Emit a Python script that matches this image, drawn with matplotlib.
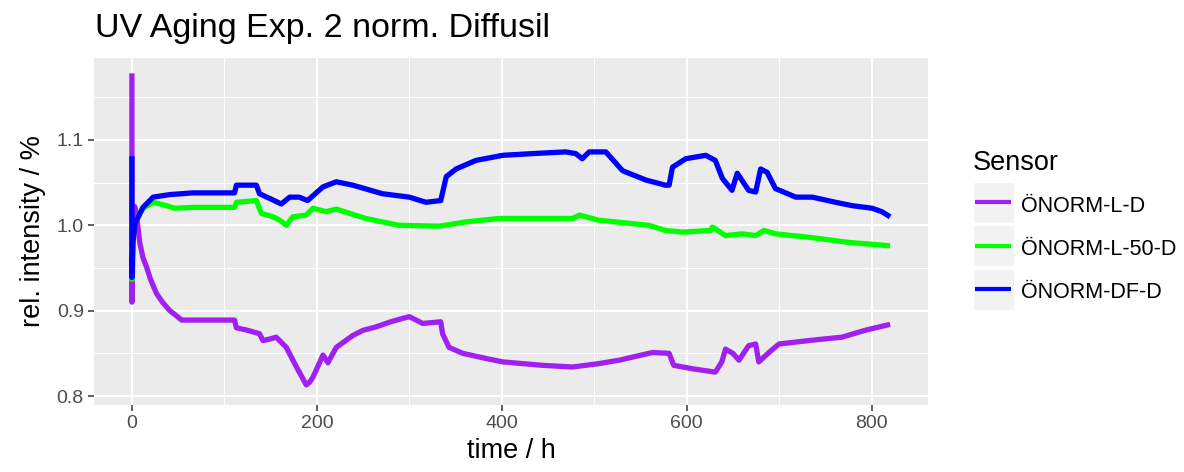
import matplotlib
matplotlib.use("Agg")
import matplotlib.pyplot as plt
from matplotlib.lines import Line2D
from matplotlib.patches import Rectangle

plt.rcParams['font.family'] = ['Liberation Sans', 'DejaVu Sans']

# ---- data ----
title = "UV Aging Exp. 2 norm. Diffusil"
sensors = ["ÖNORM-L-D", "ÖNORM-L-50-D", "ÖNORM-DF-D"]
colors = ["#A020F0", "#00FF00", "#0000FF"]

t_ld = [0, 0, 1.5, 3, 5, 8.6, 12, 15.9, 20, 26.7, 33, 41, 47, 53.7, 111, 113, 125,
        138, 141.7, 150, 156, 167, 178, 188.6, 192, 195.8, 206.6, 212, 221, 239,
        250, 264, 280, 293, 300, 314.6, 334, 336, 343, 357.8, 383, 401, 444, 476.6,
        505, 527, 563, 581, 586, 606, 631, 638, 642, 650, 656.6, 667, 674.6, 678,
        690, 700, 732, 768, 793, 820]
v_ld = [1.178, 0.910, 1.0, 1.022, 1.012, 0.979, 0.962, 0.951, 0.937, 0.920, 0.910,
        0.900, 0.895, 0.889, 0.889, 0.880, 0.877, 0.873, 0.865, 0.867, 0.869, 0.857,
        0.834, 0.813, 0.816, 0.822, 0.848, 0.839, 0.857, 0.871, 0.877, 0.881, 0.887,
        0.891, 0.893, 0.885, 0.887, 0.873, 0.857, 0.850, 0.844, 0.840, 0.836, 0.834,
        0.838, 0.842, 0.851, 0.850, 0.836, 0.832, 0.828, 0.840, 0.855, 0.850, 0.842,
        0.859, 0.861, 0.840, 0.852, 0.861, 0.865, 0.869, 0.877, 0.884]

t_l50 = [0, 1, 3.2, 12, 23, 37.5, 46, 66, 111, 113, 134.6, 140, 152.6, 160, 167, 174,
         188.6, 195.8, 210, 221, 253, 289, 332.6, 361, 397, 433, 476.6, 484, 505,
         541, 559, 577, 595, 626, 627.7, 642, 660, 674.6, 683.6, 696, 732, 775, 820]
v_l50 = [0.934, 0.990, 1.004, 1.020, 1.027, 1.023, 1.020, 1.021, 1.021, 1.027, 1.029,
         1.014, 1.010, 1.006, 1.000, 1.010, 1.012, 1.020, 1.016, 1.019, 1.008, 1.000,
         0.999, 1.004, 1.008, 1.008, 1.008, 1.012, 1.006, 1.002, 1.000, 0.994, 0.992,
         0.994, 0.998, 0.988, 0.990, 0.988, 0.994, 0.990, 0.986, 0.980, 0.976]

t_df = [0, 0, 1, 3.2, 12, 23, 41, 66, 111, 113, 134.6, 138, 150, 161.6, 170.6, 181,
        190, 206.6, 221, 239, 271, 300, 318, 334, 340, 350.6, 372, 401, 433, 469,
        480, 487, 494.6, 512.6, 530.6, 556, 577, 581, 584.6, 599, 620.6, 631, 638.6,
        649, 654.7, 667, 674.6, 680, 687, 696, 718, 735.7, 761, 779, 800.6, 811, 820]
v_df = [1.081, 0.939, 0.979, 1.002, 1.021, 1.033, 1.036, 1.038, 1.038, 1.047, 1.047,
        1.037, 1.031, 1.025, 1.033, 1.033, 1.029, 1.045, 1.051, 1.047, 1.037, 1.033,
        1.027, 1.029, 1.057, 1.066, 1.076, 1.082, 1.084, 1.086, 1.084, 1.078, 1.086,
        1.086, 1.064, 1.053, 1.047, 1.047, 1.068, 1.078, 1.082, 1.076, 1.055, 1.041,
        1.061, 1.041, 1.039, 1.066, 1.062, 1.043, 1.033, 1.033, 1.027, 1.023, 1.020,
        1.016, 1.010]

x_ticks = [0, 200, 400, 600, 800]
y_ticks = [0.8, 0.9, 1.0, 1.1]

# ---- figure ----
W, H = 1184, 472
fig = plt.figure(figsize=(W / 100, H / 100), dpi=100)
ax = fig.add_axes([94 / W, 1 - 405 / H, (928 - 94) / W, (405 - 58) / H])
ax.set_facecolor("#EBEBEB")
for s in ax.spines.values():
    s.set_visible(False)

ax.set_xlim(-41, 861)
ax.set_ylim(0.7895, 1.196)
ax.set_xticks(x_ticks)
ax.set_yticks(y_ticks)
ax.set_yticklabels(["0.8", "0.9", "1.0", "1.1"])
ax.set_xticks([100, 300, 500, 700], minor=True)
ax.set_yticks([0.85, 0.95, 1.05, 1.15], minor=True)
ax.grid(which="major", color="white", linewidth=1.5)
ax.grid(which="minor", color="white", linewidth=0.75)
ax.set_axisbelow(True)
ax.tick_params(which="major", length=4.3, width=1.1, color="#333333",
               labelcolor="#4D4D4D", labelsize=14, pad=3)
ax.tick_params(which="minor", length=0)

for t, v, c in zip([t_ld, t_l50, t_df], [v_ld, v_l50, v_df], colors):
    ax.plot(t, v, color=c, linewidth=3.8, solid_joinstyle="round",
            solid_capstyle="butt")

ax.set_xlabel("time / h", fontsize=19.5, labelpad=4)
ax.set_ylabel("rel. intensity / %", fontsize=19.5, labelpad=8)

fig.text(95 / W, 1 - 37 / H, title, fontsize=24.5, va="baseline", ha="left")

# legend drawn by hand, ggplot style
fig.text(973 / W, 1 - 170 / H, "Sensor", fontsize=19.5, va="baseline", ha="left")
key_tops = [181.5, 225, 268.5]
for top, lab, c in zip(key_tops, sensors, colors):
    fig.add_artist(Rectangle((973 / W, 1 - (top + 41) / H), 41 / W, 41 / H,
                             transform=fig.transFigure, facecolor="#F2F2F2",
                             edgecolor="white", linewidth=1))
    yc = 1 - (top + 20.5) / H
    fig.add_artist(Line2D([975.5 / W, 1011 / W], [yc, yc], transform=fig.transFigure,
                          color=c, linewidth=3, solid_capstyle="butt"))
    fig.text(1021.5 / W, 1 - (top + 30) / H, lab, fontsize=15.5,
             va="baseline", ha="left")

fig.savefig("out.png", dpi=100)
